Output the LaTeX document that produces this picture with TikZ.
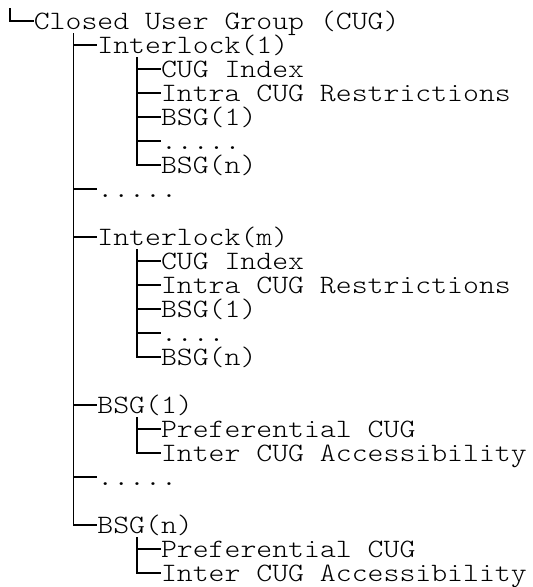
\documentclass[tikz,border=0pt]{standalone}
\usepackage{fontspec}
\newfontfamily\cugmono[FakeStretch=1.143]{Latin Modern Mono Light}
\begin{document}
\begin{tikzpicture}[x=1pt,y=-1pt,
  item/.style={anchor=west,inner sep=0pt,outer sep=0pt,text height=17pt,text depth=0pt,
    font=\cugmono\fontsize{26.5}{24}\selectfont},
  branch/.style={line width=1.6pt,line join=miter}]
\useasboundingbox[fill=white] (0,0) rectangle (533,587);
% columns: text at 33.8, 97.4, 161.0 ; verticals at 10, 73.55, 137.15
\node[item] (root) at (33.8,21) {Closed User Group (CUG)};
\node[item] (i1)  at (97.4,45)  {Interlock(1)};
\node[item] (i1a) at (161,69)   {CUG Index};
\node[item] (i1b) at (161,93)   {Intra CUG Restrictions};
\node[item] (i1c) at (161,117)  {BSG(1)};
\node[item] (i1d) at (161,141)  {.....};
\node[item] (i1e) at (161,165)  {BSG(n)};
\node[item] (d1)  at (97.4,189) {.....};
\node[item] (im)  at (97.4,237) {Interlock(m)};
\node[item] (ima) at (161,261)  {CUG Index};
\node[item] (imb) at (161,285)  {Intra CUG Restrictions};
\node[item] (imc) at (161,309)  {BSG(1)};
\node[item] (imd) at (161,333)  {....};
\node[item] (ime) at (161,357)  {BSG(n)};
\node[item] (b1)  at (97.4,405) {BSG(1)};
\node[item] (b1a) at (161,429)  {Preferential CUG};
\node[item] (b1b) at (161,453)  {Inter CUG Accessibility};
\node[item] (d2)  at (97.4,477) {.....};
\node[item] (bn)  at (97.4,525) {BSG(n)};
\node[item] (bna) at (161,549)  {Preferential CUG};
\node[item] (bnb) at (161,573)  {Inter CUG Accessibility};
\coordinate (t0)  at (10,8);
\coordinate (t1)  at (73.55,33);
\coordinate (t2a) at (137.15,57);
\coordinate (t2m) at (137.15,249);
\coordinate (t2b) at (137.15,417);
\coordinate (t2n) at (137.15,537);
\draw[branch] (t0) |- (root.west);
\foreach \c in {i1,d1,im,b1,d2,bn} \draw[branch] (t1) |- (\c.west);
\foreach \c in {i1a,i1b,i1c,i1d,i1e} \draw[branch] (t2a) |- (\c.west);
\foreach \c in {ima,imb,imc,imd,ime} \draw[branch] (t2m) |- (\c.west);
\foreach \c in {b1a,b1b} \draw[branch] (t2b) |- (\c.west);
\foreach \c in {bna,bnb} \draw[branch] (t2n) |- (\c.west);
\end{tikzpicture}
\end{document}
